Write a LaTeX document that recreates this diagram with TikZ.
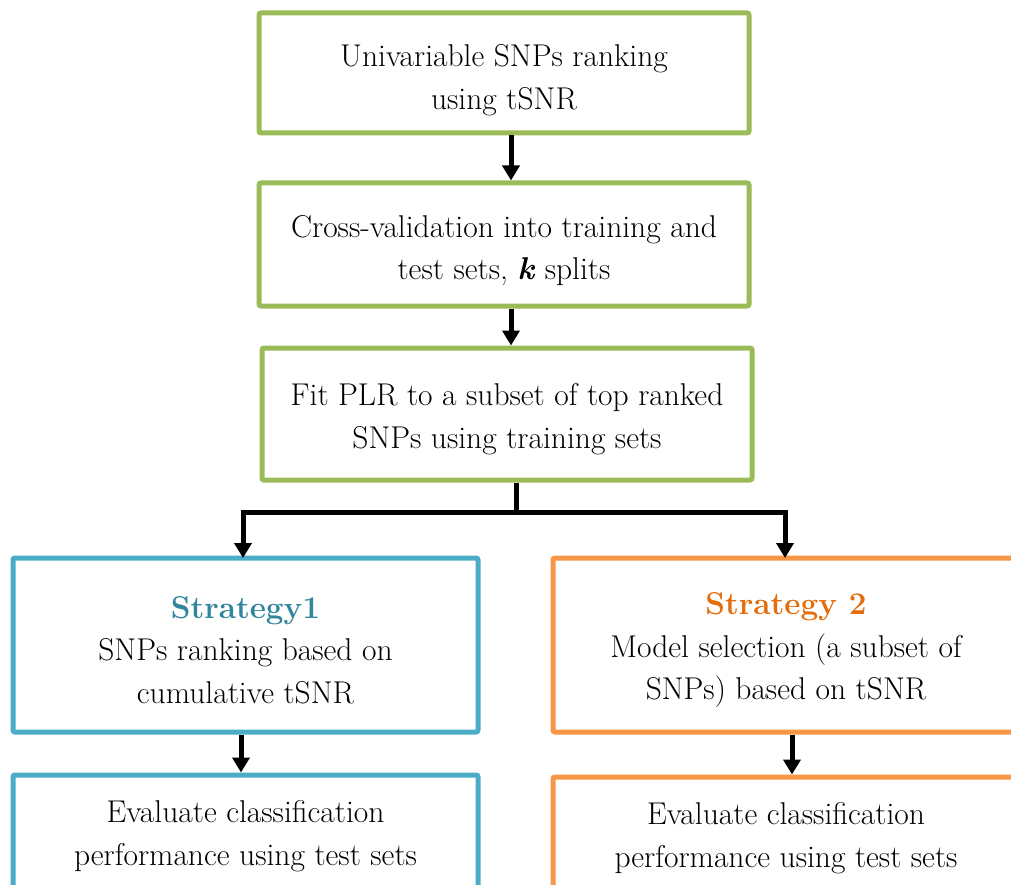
\documentclass[tikz,border=0pt]{standalone}
\usetikzlibrary{arrows.meta,calc}
\definecolor{boxgreen}{RGB}{155,187,89}
\definecolor{boxblue}{RGB}{75,172,198}
\definecolor{boxorange}{RGB}{247,150,70}
\definecolor{titleblue}{RGB}{49,133,156}
\definecolor{titleorange}{RGB}{228,108,10}
\tikzset{
  stagebox/.style={draw, line width=5pt, rounded corners=2pt, inner sep=0pt},
  greenbox/.style={stagebox, draw=boxgreen, minimum width=490pt},
  bluebox/.style={stagebox, draw=boxblue, minimum width=465pt},
  orangebox/.style={stagebox, draw=boxorange, minimum width=466pt},
  boxtext/.style={align=center, font=\fontsize{31.5}{42.5}\selectfont, inner sep=0pt},
  flow/.style={line width=5pt, -{Triangle[width=17pt,length=15pt]}},
  joint/.style={line width=5pt}
}
\begin{document}
\begin{tikzpicture}[x=1pt,y=-1pt]
\useasboundingbox (0,0) rectangle (1011,885);
\clip (0,0) rectangle (1011,885);

% main pipeline
\node[greenbox, minimum height=120pt] (rank) at (504,73) {};
\node[boxtext] (rankt) at ($(rank)+(0,7)$) {Univariable SNPs ranking\\using tSNR};
\node[greenbox, minimum height=123pt] (cv) at (504,244.5) {};
\node[boxtext] (cvt) at ($(cv)+(0,6)$)
  {Cross-validation into training and\\test sets, \textbf{\textit{k}} splits};
\node[greenbox, minimum height=132pt] (fit) at (507,414) {};
\node[boxtext] (fitt) at ($(fit)+(0,5)$)
  {Fit PLR to a subset of top ranked\\SNPs using training sets};

% two strategies
\node[bluebox, minimum height=174pt] (s1) at (245.5,645) {};
\node[boxtext] (s1t) at ($(s1)+(0,5)$)
  {\textcolor{titleblue}{\textbf{Strategy1}}\\SNPs ranking based on\\cumulative tSNR};
\node[orangebox, minimum height=174pt] (s2) at (786,645) {};
\node[boxtext] (s2t) at ($(s2)+(0,5)$)
  {\textcolor{titleorange}{\textbf{Strategy 2}}\\Model selection (a subset of\\SNPs) based on tSNR};

% evaluation
\node[bluebox, minimum height=120pt] (e1) at (245.5,835) {};
\node[boxtext] (e1t) at ($(e1)+(0,1)$) {Evaluate classification\\performance using test sets};
\node[orangebox, minimum height=120pt] (e2) at (786,837) {};
\node[boxtext] (e2t) at ($(e2)+(0,1)$) {Evaluate classification\\performance using test sets};

% connectors
\draw[flow] (rank.south -| 511,0) -- (cv.north -| 511,0);
\draw[flow] (cv.south -| 511,0) -- (fit.north -| 511,0);
\coordinate (split) at (516,512);
\draw[joint] (fit.south -| split) -- (split);
\draw[flow] ($(split)+(2.5,0)$) -| (243,558);
\draw[flow] ($(split)+(-2.5,0)$) -| (785,558);
\draw[flow] (s1.south -| 241,0) -- (e1.north -| 241,0);
\draw[flow] (s2.south -| 792,0) -- (e2.north -| 792,0);
\end{tikzpicture}
\end{document}
